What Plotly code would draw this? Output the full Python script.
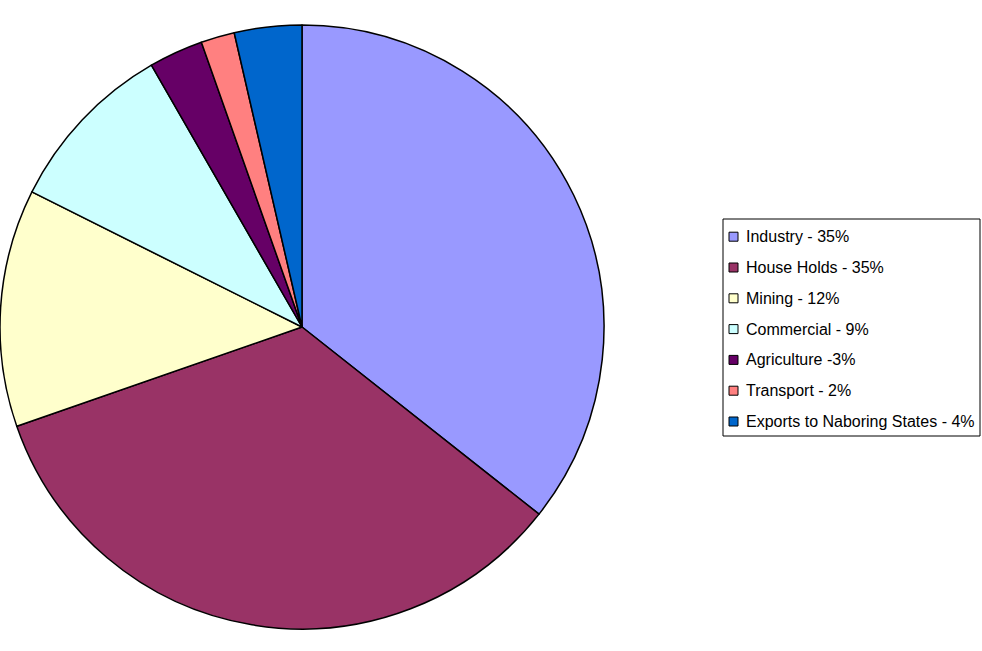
import plotly.graph_objects as go

labels = ["Industry - 35%", "House Holds - 35%", "Mining - 12%", "Commercial - 9%",
          "Agriculture -3%", "Transport - 2%", "Exports to Naboring States - 4%"]
values = [35.6, 34.0, 12.7, 9.3, 2.9, 1.8, 3.6]
colors = ["#9999FF", "#993366", "#FFFFCC", "#CCFFFF", "#660066", "#FF8080", "#0066CC"]

W, H = 982, 651

def px(x):
    return x / W

def py(y):
    return 1 - y / H

fig = go.Figure(go.Pie(
    labels=labels, values=values, sort=False, direction="clockwise", rotation=0,
    marker=dict(colors=colors, line=dict(color="black", width=1.5)),
    textinfo="none", hoverinfo="label+value", showlegend=False,
    domain=dict(x=[0, px(604)], y=[py(629), py(25)]),
))

shapes = [dict(type="rect", xref="paper", yref="paper",
               x0=px(723), x1=px(980), y0=py(436), y1=py(219),
               line=dict(color="black", width=1), fillcolor="white", layer="below")]
annotations = []
for i, (lab, col) in enumerate(zip(labels, colors)):
    yc = 236.7 + 30.8 * i
    shapes.append(dict(type="rect", xref="paper", yref="paper",
                       x0=px(729), x1=px(738), y0=py(yc + 4.5), y1=py(yc - 4.5),
                       line=dict(color="black", width=1), fillcolor=col))
    annotations.append(dict(xref="paper", yref="paper", x=px(744), y=py(yc),
                            xanchor="left", yanchor="middle", showarrow=False,
                            text=lab, font=dict(family="Liberation Sans", size=16, color="black")))

fig.update_layout(
    width=W, height=H, margin=dict(l=0, r=0, t=0, b=0),
    paper_bgcolor="white", plot_bgcolor="white",
    shapes=shapes, annotations=annotations,
)
fig.write_html("out.html", config={"displayModeBar": False},
               post_script="document.body.style.margin='0';document.body.style.overflow='hidden';")
